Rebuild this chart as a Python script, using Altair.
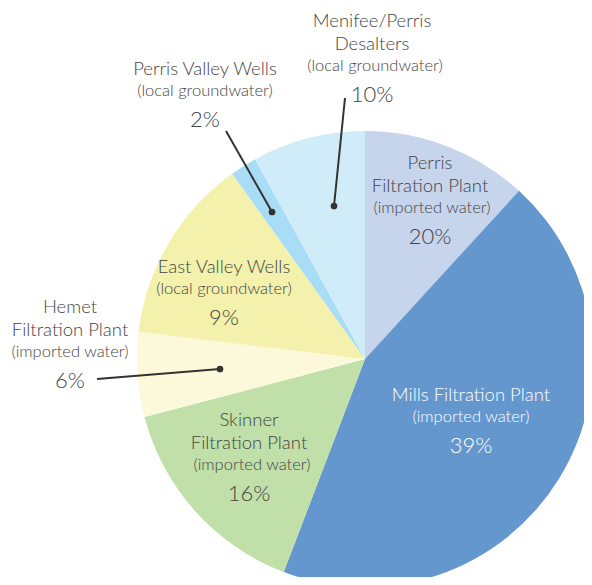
import altair as alt
import pandas as pd

# ---- data ----
sources = [
    "Perris Filtration Plant",
    "Mills Filtration Plant",
    "Skinner Filtration Plant",
    "Hemet Filtration Plant",
    "East Valley Wells",
    "Perris Valley Wells",
    "Menifee/Perris Desalters",
]
# slice sizes as drawn (percent of the circle)
shares = [11.8, 44.0, 15.1, 6.0, 13.2, 1.9, 8.0]
# percentages printed on the chart
stated_pct = [20, 39, 16, 6, 9, 2, 10]
name_lines = [
    ["Perris", "Filtration Plant"],
    ["Mills Filtration Plant"],
    ["Skinner", "Filtration Plant"],
    ["Hemet", "Filtration Plant"],
    ["East Valley Wells"],
    ["Perris Valley Wells"],
    ["Menifee/Perris", "Desalters"],
]
kinds = [
    "(imported water)",
    "(imported water)",
    "(imported  water)",
    "(imported water)",
    "(local groundwater)",
    "(local groundwater)",
    "(local groundwater)",
]

# ---- styles / layout ----
colors = ["#c6d4ec", "#6597cf", "#c0dfa9", "#fbf9d9", "#f3f1ab", "#a9dcf5", "#d1ecf9"]
text_colors = ["#454545", "#ffffff", "#454545", "#454545", "#454545", "#454545", "#454545"]
M = 8  # page margin
CX, CY, R = 365 - M, 359 - M, 228
# label anchor: (x centre, y of first line) in page pixels
label_anchor = [(430, 163), (471, 395), (249, 420), (70, 307), (224, 267), (205, 69), (372, 21)]
kind_dx = [2, 0, 3, 0, 0, 0, 3]
# leader lines (page pixels): label end -> dot inside slice
leaders = [
    (97, 379, 220, 369),
    (226, 131, 272, 212),
    (345, 98, 334, 206),
]
FONT = "Lato"
WEIGHT = 300

pie_df = pd.DataFrame({"source": sources, "share": shares, "idx": list(range(len(sources)))})

rows = []
for i, src in enumerate(sources):
    x0, y0 = label_anchor[i]
    y = y0
    for j, ln in enumerate(name_lines[i]):
        if j > 0:
            y += 23
        rows.append({"text": ln, "x": x0 - M, "y": y - M, "size": 18.5, "tcolor": text_colors[i]})
    y += 22
    rows.append({"text": kinds[i], "x": x0 + kind_dx[i] - M, "y": y - M, "size": 16.5, "tcolor": text_colors[i]})
    y += 29
    rows.append({"text": f"{stated_pct[i]}%", "x": x0 - M, "y": y - M, "size": 22, "tcolor": text_colors[i]})
text_df = pd.DataFrame(rows)

lead_df = pd.DataFrame(
    [{"x": a - M, "y": b - M, "x2": c - M, "y2": d - M} for a, b, c, d in leaders]
)

pie = alt.Chart(pie_df).mark_arc(x=CX, y=CY, outerRadius=R).encode(
    theta=alt.Theta("share:Q", stack=True),
    color=alt.Color("source:N", scale=alt.Scale(domain=sources, range=colors), legend=None),
    order=alt.Order("idx:Q"),
)

lines = alt.Chart(lead_df).mark_rule(color="#333333", strokeWidth=2).encode(
    x=alt.X("x:Q", scale=None, axis=None),
    y=alt.Y("y:Q", scale=None, axis=None),
    x2="x2:Q",
    y2="y2:Q",
)
dots = alt.Chart(lead_df).mark_circle(color="#333333", opacity=1, size=45).encode(
    x=alt.X("x2:Q", scale=None, axis=None),
    y=alt.Y("y2:Q", scale=None, axis=None),
)

labels = alt.Chart(text_df).mark_text(font=FONT, fontWeight=WEIGHT, baseline="middle", align="center").encode(
    x=alt.X("x:Q", scale=None, axis=None),
    y=alt.Y("y:Q", scale=None, axis=None),
    text="text:N",
    size=alt.Size("size:Q", scale=None, legend=None),
    color=alt.Color("tcolor:N", scale=None, legend=None),
)

chart = (
    alt.layer(pie, lines, dots, labels)
    .resolve_scale(color="independent")
    .properties(width=576, height=569, autosize="none", padding=0)
    .configure_view(stroke=None)
)

chart.save("out.html", embed_options={"renderer": "svg", "actions": False})
